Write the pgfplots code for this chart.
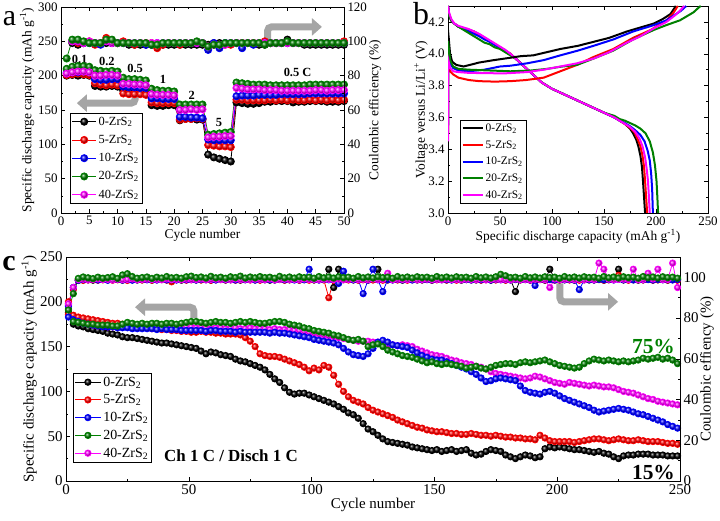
\documentclass[border=0pt]{standalone}
\usepackage{fontspec}
\setmainfont{Liberation Serif}
\usepackage{pgfplots}
\pgfplotsset{compat=1.18}
\usepackage{pgfplotstable}
\usetikzlibrary{arrows.meta}
\definecolor{cgreen}{RGB}{0,128,0}
\definecolor{cmag}{RGB}{255,0,255}
\definecolor{arr}{RGB}{165,165,165}
\newcommand{\fa}{\fontsize{13}{15}\selectfont}
\newcommand{\fl}{\fontsize{13.5}{15}\selectfont}
\newcommand{\fc}{\fontsize{15}{17}\selectfont}
\newcommand{\Zr}[1]{#1-ZrS\textsubscript{2}}
\pgfplotsset{
  base/.style={scale only axis, axis line style={line width=0.6pt}, tick style={black, line width=0.5pt},
    major tick length=4bp, minor tick length=2.2bp, tick align=inside,
    /pgf/number format/assume math mode=true},
}
\tikzset{arrsty/.style={line width=7bp, draw=arr, rounded corners=4bp, -{Triangle[width=17bp,length=10bp]}}}
\pgfplotstableread{
n c0 c5 c10 c20 c40 e0 e5 e10 e20 e40
1 200 201 204 210 203 nan nan nan 90 nan
2 201 202 205 213 205 99 100 100 101 100
3 200 203 205 214 206 98 99 100 101 100
4 201 202 206 214 206 99 99 99 100 99
5 200 201 205 213 205 99 100 99 99 100
6 185 189 195 208 200 99 98 99 99 99
7 184 187 194 207 200 99 99 98 99 99
8 184 186 194 206 201 99 102 100 101 100
9 185 187 195 207 201 99 99 99 101 99
10 184 186 195 206 200 99 99 99 99 99
11 178 174 184 197 188 99 100 99 99 99
12 178 173 183 195 188 98 99 99 99 99
13 178 173 183 195 187 98 98 99 99 99
14 177 173 182 194 187 98 99 99 99 99
15 177 172 182 193 186 98 99 98 99 99
16 157 161 167 181 173 98 99 98 98 99
17 156 160 167 179 172 98 96 99 98 99
18 156 160 166 178 172 98 98 99 99 99
19 157 160 166 178 172 98 99 99 99 99
20 157 160 166 177 171 98 99 99 99 99
21 135 136 140 158 150 98 98 99 99 99
22 137 137 140 158 150 98 99 99 99 99
23 137 137 139 158 151 98 99 99 99 99
24 136 138 139 158 150 98 99 99 100 99
25 136 137 138 158 151 98 99 99 99 99
26 85 99 107 114 110 98 97 95 97 97
27 81 98 106 115 111 99 98 99 98 98
28 79 97 106 116 111 99 98 96 98 98
29 77 97 106 117 112 99 98 99 99 98
30 75 96 106 118 112 99 98 99 99 99
31 161 165 170 190 182 99 99 99 99 99
32 160 165 171 189 181 99 99 96 99 99
33 159 164 171 188 180 99 99 99 99 99
34 159 164 171 187 180 99 99 98 99 99
35 160 164 172 187 180 98 99 99 99 99
36 162 164 172 187 179 98 100 99 98 99
37 162 165 172 186 179 99 99 99 99 99
38 163 164 172 186 179 99 99 99 99 99
39 163 165 173 186 178 99 99 99 99 99
40 163 164 173 186 178 101 99 99 100 99
41 161 165 173 186 178 99 99 99 99 99
42 162 164 173 186 178 99 99 99 99 99
43 162 164 173 186 178 98 99 99 99 99
44 163 165 174 187 178 98 99 99 99 99
45 163 164 174 187 179 98 99 99 99 99
46 163 165 174 187 179 98 99 99 99 99
47 162 164 174 187 178 98 99 99 99 99
48 162 165 174 187 179 98 99 99 99 99
49 162 164 174 187 179 98 99 99 99 99
50 163 165 174 187 179 98 100 99 99 99
}\tabA
\pgfplotstableread{
n c0 c5 c10 c20 c40 e0 e5 e10 e20 e40
1 188 186 183 192 195 87 88 86 84 87
3 175 185 180 178 180 95 94 95 92 95
5 173 183 178 177 178 98.5 98.8 98.6 99.5 98.9
7 172 182 176 176 176 98.8 98.5 98.9 100.2 99.1
9 170 181 175 175 175 99.0 98.7 98.8 99.8 98.8
11 169 180 174 175 174 98.6 98.9 99.1 99.4 99.0
13 168 179 173 174 173 98.9 98.6 98.7 100.1 99.2
15 167 178 172 174 173 99.1 98.8 98.9 99.6 98.9
17 165 177 172 174 172 98.7 98.9 98.6 99.9 99.0
19 164 176 172 173 172 98.8 98.6 98.9 100.3 98.7
21 163 176 171 173 172 99.0 98.8 99.0 99.5 99.1
23 161 175 171 175 172 98.6 98.9 98.7 101.2 98.9
25 160 175 171 177 173 98.9 98.5 98.9 101.8 99.0
27 160 174 170 176 172 99.1 98.8 98.6 100.4 99.2
29 159 173 170 175 172 98.7 98.9 98.8 99.6 98.8
31 158 172 170 176 171 98.8 98.7 99.0 99.9 99.0
33 157 171 170 175 171 99.0 98.9 98.8 100.2 99.1
35 156 170 170 176 172 98.6 98.6 98.9 99.5 98.9
37 155 170 169 176 171 98.9 98.8 98.7 100.1 99.0
39 154 169 170 175 171 99.1 98.9 99.0 99.7 98.8
41 154 169 169 176 171 98.7 98.7 98.8 100.4 99.2
43 153 168 169 176 170 98.8 97.8 98.9 99.8 98.9
45 152 168 169 175 171 99.0 98.8 98.7 100.0 99.0
47 151 167 168 176 171 98.6 98.9 99.0 99.6 98.8
49 150 167 168 177 172 98.9 98.6 98.8 100.3 99.1
51 149 166 168 178 172 99.1 98.8 98.9 100.6 99.0
53 148 166 168 178 171 98.7 98.9 98.7 99.9 98.9
55 145 167 168 177 171 98.8 98.7 99.0 100.2 99.2
57 142 166 167 176 171 99.0 98.9 98.8 99.7 98.8
59 144 166 168 177 170 98.6 98.6 98.9 100.5 99.0
61 143 165 168 178 171 98.9 98.8 98.7 99.8 99.1
63 141 165 167 177 171 99.1 98.9 99.0 100.1 98.9
65 140 164 167 177 170 98.7 98.7 98.8 99.6 99.0
67 139 164 167 176 170 98.8 98.9 98.9 100.3 98.8
69 136 164 166 177 171 99.0 98.6 98.7 99.9 99.2
71 134 163 167 178 170 98.6 98.8 99.0 100.6 98.9
73 133 160 166 177 170 98.9 98.9 98.8 99.7 99.0
75 131 156 166 178 171 99.1 98.7 98.9 100.2 98.8
77 129 150 166 177 170 98.7 98.9 98.7 99.8 99.1
79 127 142 166 176 170 98.8 98.6 99.0 100.4 99.0
81 124 140 166 176 170 99.0 98.8 98.8 99.9 98.9
83 119 139 165 177 169 98.6 98.9 98.9 100.1 99.2
85 114 139 166 178 170 98.9 98.7 98.7 99.6 98.8
87 110 138 165 178 169 99.1 98.9 99.0 100.5 99.0
89 104 136 165 177 169 98.7 98.6 98.8 99.8 99.1
91 99 134 164 175 169 98.8 98.8 98.9 100.2 98.9
93 97 132 163 174 168 99.0 98.9 98.7 99.7 99.0
95 98 130 162 173 168 98.6 98.7 99.0 100.3 98.8
97 98 127 161 171 167 98.9 98.9 98.8 99.9 99.2
99 96 123 160 170 166 99.1 98.6 104.0 100.1 98.9
101 94 126 158 168 165 98.7 98.8 98.9 99.6 99.0
103 92 124 157 167 164 98.8 98.9 98.7 100.4 98.8
105 90 129 156 166 163 99.0 98.7 99.0 99.8 99.1
107 88 127 155 165 162 104.0 90.0 98.8 100.2 99.0
109 86 118 154 163 161 95.0 98.6 98.9 99.7 98.9
111 83 108 152 162 160 104.0 98.8 97.0 100.3 99.2
113 80 100 148 160 159 98.9 98.9 103.0 99.9 98.8
115 76 94 144 158 158 99.1 98.7 99.0 100.1 99.0
117 74 90 141 157 157 98.7 98.9 98.8 99.6 99.1
119 70 88 140 158 156 98.8 98.6 98.9 100.4 98.9
121 64 86 139 156 156 99.0 98.8 92.0 99.8 99.0
123 58 82 142 150 156 98.6 98.9 98.7 100.2 98.8
125 55 79 148 152 155 98.9 98.7 104.0 99.7 99.2
127 51 77 155 153 155 104.0 98.9 98.8 100.3 98.9
129 47 75 157 150 154 99.1 98.6 93.0 99.9 99.0
131 44 73 155 146 152 98.7 98.8 98.9 100.1 102.0
133 43 71 152 144 152 98.8 98.9 98.7 99.6 98.8
135 42 68 151 142 151 99.0 98.7 99.0 100.4 99.1
137 41 66 150 140 152 98.6 98.9 98.8 99.8 99.0
139 40 64 149 139 151 98.9 98.6 98.9 100.2 98.9
141 38 62 146 138 150 99.1 98.8 98.7 99.7 99.2
143 37 60 143 136 147 98.7 98.9 99.0 100.3 98.8
145 36 59 140 134 145 98.8 98.7 98.8 99.9 99.0
147 35 57 138 132 143 99.0 98.9 98.9 100.1 99.1
149 34 56 136 133 141 98.6 98.6 98.7 99.6 98.9
151 35 55 135 131 140 98.9 98.8 99.0 100.4 99.0
153 33 55 135 130 139 99.1 98.9 98.8 99.8 98.8
155 34 54 133 131 137 98.7 98.7 98.9 100.2 99.2
157 35 53 131 130 135 98.8 98.9 98.7 99.7 98.9
159 33 53 129 129 134 99.0 98.6 99.0 100.3 99.0
161 34 52 127 128 132 98.6 98.8 98.8 99.9 98.8
163 35 52 125 126 131 98.9 98.9 98.9 100.1 99.1
165 31 53 122 127 130 99.1 98.7 98.7 99.6 99.0
167 29 52 119 128 128 98.7 98.9 99.0 100.4 98.9
169 30 51 115 126 127 98.8 98.6 98.8 99.8 99.2
171 33 51 111 125 125 99.0 98.8 98.9 100.2 98.8
173 35 50 112 127 122 98.6 98.9 98.7 99.7 99.0
175 34 51 114 129 120 98.9 98.7 99.0 100.3 99.1
177 33 50 115 130 119 99.1 98.9 98.8 101.5 98.9
179 29 49 114 131 118 98.7 98.6 98.9 100.8 99.0
181 27 49 113 131 117 98.8 98.8 98.7 99.9 98.8
183 25 48 112 130 116 93.0 98.9 99.0 100.1 99.2
185 27 48 106 132 115 98.9 98.7 98.8 99.6 98.9
187 29 47 101 133 114 99.1 98.9 98.9 100.4 99.0
189 28 47 99 132 115 98.7 98.6 98.7 99.8 98.8
191 26 46 98 133 117 98.8 98.8 96.0 100.2 99.1
193 27 51 97 134 116 99.0 98.9 99.0 99.7 99.0
195 36 48 99 135 114 98.6 98.7 98.8 100.3 98.9
197 38 45 100 133 112 104.0 98.9 98.9 99.9 95.0
199 37 44 98 131 110 99.1 98.6 98.7 100.1 99.2
201 38 44 95 129 109 98.7 98.8 99.0 99.6 98.8
203 37 44 92 128 108 98.8 98.9 98.8 100.4 99.0
205 36 44 90 127 110 99.0 98.7 98.9 99.8 99.1
207 35 43 88 126 109 98.6 98.9 98.7 100.2 98.9
209 35 44 86 127 108 98.9 98.6 94.0 99.7 99.0
211 34 45 84 131 107 99.1 98.8 98.8 100.3 98.8
213 33 46 82 134 106 98.7 98.9 98.9 99.9 99.2
215 32 47 79 136 107 98.8 98.7 98.7 100.1 98.9
217 33 47 77 135 106 99.0 98.9 99.0 99.6 107.0
219 31 46 78 134 105 98.6 98.6 98.8 100.4 104.0
221 30 45 79 135 105 98.9 98.8 98.9 99.8 99.1
223 27 46 80 134 104 99.1 98.9 98.7 100.2 98.8
225 25 47 81 133 102 104.0 101.0 99.0 99.7 99.0
227 28 46 80 134 100 98.7 98.9 98.8 100.3 99.1
229 29 45 79 133 99 98.8 98.6 98.9 99.9 98.9
231 29 45 77 134 98 99.0 98.8 98.7 100.1 104.0
233 30 46 75 135 96 98.6 98.9 99.0 99.6 98.8
235 30 45 74 137 94 98.9 98.7 98.8 100.4 99.0
237 30 44 72 136 92 99.1 98.9 98.9 99.8 102.0
239 29 44 70 137 91 98.7 98.6 98.7 100.2 99.2
241 29 44 68 138 89 98.8 98.8 99.0 99.7 104.0
243 29 43 66 136 88 99.0 98.9 98.8 100.3 98.9
245 28 42 63 137 87 98.6 98.7 98.9 99.9 99.0
247 28 42 61 135 86 98.9 98.9 98.7 100.1 107.0
249 28 41 59 131 85 99.1 98.6 99.0 99.6 95.0
}\tabC
\begin{document}
\begin{tikzpicture}
\path[use as bounding box] (0,0) rectangle (720bp,521bp);
% ================= Panel a =================
\begin{axis}[base, at={(61bp,308bp)}, anchor=south west, width=283bp, height=206bp,
  xmin=0, xmax=50, ymin=0, ymax=300, xtick={0,5,...,50}, ytick={0,50,...,300},
  minor x tick num=1, minor y tick num=1, ytick pos=left,
  ticklabel style={font=\fa}, label style={font=\fl},
  xlabel={Cycle number}, ylabel={Specific discharge capacity (mAh g\textsuperscript{-1})},
  xlabel style={yshift=3bp},
  every axis y label/.style={at={(axis description cs:-0.120,0.5)}, rotate=90, anchor=center, font=\fl},
  legend style={at={(0.032,0.485)}, anchor=north west, draw=black, line width=0.5pt,
    font=\fontsize{12.5}{14}\selectfont, row sep=4.5bp, inner sep=1.5bp, legend cell align=left},
  legend image code/.code={\draw[mark repeat=2,mark phase=2,#1] plot coordinates {(0bp,0bp) (12bp,0bp) (24bp,0bp)};},
  every axis plot/.append style={line width=0.8pt, mark size=3.6bp},
]
\addplot[black, mark=ball, mark options={ball color=black}] table[x=n,y=c0] {\tabA};
\addlegendentry{\Zr{0}}
\addplot[red, mark=ball, mark options={ball color=red}] table[x=n,y=c5] {\tabA};
\addlegendentry{\Zr{5}}
\addplot[blue, mark=ball, mark options={ball color=blue}] table[x=n,y=c10] {\tabA};
\addlegendentry{\Zr{10}}
\addplot[cgreen, mark=ball, mark options={ball color=cgreen}] table[x=n,y=c20] {\tabA};
\addlegendentry{\Zr{20}}
\addplot[cmag, mark=ball, mark options={ball color=cmag}] table[x=n,y=c40] {\tabA};
\addlegendentry{\Zr{40}}
\node[font=\bfseries\fontsize{12.5}{14}\selectfont] at (axis cs:3.3,224) {0.1};
\node[font=\bfseries\fontsize{12.5}{14}\selectfont] at (axis cs:8.1,221) {0.2};
\node[font=\bfseries\fontsize{12.5}{14}\selectfont] at (axis cs:13.1,210) {0.5};
\node[font=\bfseries\fontsize{12.5}{14}\selectfont] at (axis cs:18.0,194) {1};
\node[font=\bfseries\fontsize{12.5}{14}\selectfont] at (axis cs:23.1,171) {2};
\node[font=\bfseries\fontsize{12.5}{14}\selectfont] at (axis cs:27.9,132.5) {5};
\node[font=\bfseries\fontsize{12.5}{14}\selectfont] at (axis cs:41.8,204.6) {0.5 C};
\draw[arrsty] (axis cs:36.5,252) -- (axis cs:36.5,271) -- (axis cs:46.1,271);
\draw[arrsty] (axis cs:13.1,177) -- (axis cs:13.1,160) -- (axis cs:2.8,160);
\end{axis}
\begin{axis}[base, at={(61bp,308bp)}, anchor=south west, width=283bp, height=206bp,
  xmin=0, xmax=50, ymin=0, ymax=120, axis x line=none, axis y line*=right,
  ytick={0,20,...,120}, minor y tick num=1,
  ticklabel style={font=\fa}, label style={font=\fl},
  ylabel={Coulombic efficiency (\%)},
  every axis y label/.style={at={(axis description cs:1.1095,0.5)}, rotate=90, anchor=center, font=\fl},
  every axis plot/.append style={line width=0.8pt, mark size=3.6bp},
]
\addplot[black, mark=ball, mark options={ball color=black}] table[x=n,y=e0] {\tabA};
\addplot[red, mark=ball, mark options={ball color=red}] table[x=n,y=e5] {\tabA};
\addplot[blue, mark=ball, mark options={ball color=blue}] table[x=n,y=e10] {\tabA};
\addplot[cmag, mark=ball, mark options={ball color=cmag}] table[x=n,y=e40] {\tabA};
\addplot[cgreen, mark=ball, mark options={ball color=cgreen}] table[x=n,y=e20] {\tabA};
\end{axis}
% ================= Panel b =================
\begin{axis}[base, at={(448bp,308bp)}, anchor=south west, width=260bp, height=207bp,
  xmin=0, xmax=250, ymin=3.0, ymax=4.3, xtick={0,50,...,250}, ytick={3.0,3.2,3.4,3.6,3.8,4.0,4.2},
  minor x tick num=1, minor y tick num=1,
  ticklabel style={font=\fa}, label style={font=\fl},
  yticklabel style={/pgf/number format/.cd, fixed, fixed zerofill, precision=1},
  xlabel={Specific discharge capacity (mAh g\textsuperscript{-1})}, ylabel={Voltage versus Li/Li\textsuperscript{+} (V)},
  xlabel style={yshift=3bp},
  every axis y label/.style={at={(axis description cs:-0.104,0.5)}, rotate=90, anchor=center, font=\fl},
  legend style={at={(0.046,0.449)}, anchor=north west, draw=black, line width=0.5pt,
    font=\fontsize{11.5}{13}\selectfont, row sep=3.6bp, inner sep=1.5bp, legend cell align=left},
  legend image code/.code={\draw[#1] (0bp,0bp) -- (20bp,0bp);},
  every axis plot/.append style={line width=2bp},
]
\addplot[black] coordinates {(0,4.30) (1,4.25) (3,4.21) (6,4.19) (10,4.17) (15,4.16) (20,4.15) (25,4.14) (30,4.12) (35,4.10) (40,4.08) (45,4.06) (50,4.04) (55,4.02) (60,4.00) (65,3.97) (70,3.94) (75,3.91) (80,3.88) (85,3.85) (90,3.82) (95,3.80) (100,3.78) (110,3.75) (120,3.72) (130,3.69) (140,3.66) (150,3.63) (160,3.60) (165,3.58) (170,3.56) (175,3.53) (178,3.50) (181,3.46) (183,3.42) (185,3.36) (186.5,3.29) (187.5,3.20) (188.5,3.10) (189.5,3.00)};
\addlegendentry{\Zr{0}}
\addplot[red] coordinates {(0,4.30) (1,4.25) (3,4.21) (6,4.19) (10,4.17) (15,4.16) (20,4.15) (25,4.14) (30,4.12) (35,4.10) (40,4.08) (45,4.06) (50,4.04) (55,4.02) (60,4.00) (65,3.97) (70,3.94) (75,3.91) (80,3.88) (85,3.85) (90,3.82) (95,3.80) (100,3.78) (110,3.75) (120,3.72) (130,3.69) (140,3.66) (150,3.63) (160,3.60) (165,3.58) (170,3.56) (175,3.535) (179,3.51) (182,3.47) (185,3.42) (187,3.36) (188.5,3.29) (189.5,3.20) (190.5,3.10) (191.5,3.00)};
\addlegendentry{\Zr{5}}
\addplot[blue] coordinates {(0,4.30) (1,4.25) (3,4.21) (6,4.19) (10,4.17) (15,4.155) (20,4.14) (25,4.125) (30,4.11) (35,4.09) (40,4.075) (45,4.055) (50,4.035) (55,4.015) (60,3.995) (65,3.97) (70,3.94) (75,3.91) (80,3.88) (85,3.85) (90,3.82) (95,3.80) (100,3.78) (110,3.75) (120,3.72) (130,3.69) (140,3.66) (150,3.63) (160,3.60) (165,3.58) (170,3.565) (175,3.545) (180,3.52) (185,3.49) (189,3.45) (192,3.39) (194,3.33) (195.3,3.25) (196.3,3.15) (197,3.00)};
\addlegendentry{\Zr{10}}
\addplot[cgreen] coordinates {(0,4.30) (1,4.24) (3,4.21) (6,4.19) (10,4.17) (15,4.15) (20,4.13) (25,4.11) (30,4.09) (35,4.07) (40,4.06) (45,4.04) (50,4.03) (55,4.01) (60,3.99) (65,3.97) (70,3.94) (75,3.91) (80,3.88) (85,3.85) (90,3.82) (95,3.80) (100,3.78) (110,3.75) (120,3.72) (130,3.69) (140,3.66) (150,3.63) (160,3.61) (165,3.59) (170,3.58) (175,3.565) (180,3.55) (185,3.53) (190,3.50) (194,3.45) (197,3.38) (199,3.30) (200.5,3.20) (201.3,3.10) (202,3.00)};
\addlegendentry{\Zr{20}}
\addplot[cmag] coordinates {(0,4.30) (1,4.26) (3,4.22) (6,4.19) (10,4.175) (15,4.165) (20,4.155) (25,4.14) (30,4.125) (35,4.105) (40,4.085) (45,4.065) (50,4.045) (55,4.025) (60,4.00) (65,3.97) (70,3.94) (75,3.91) (80,3.88) (85,3.85) (90,3.82) (95,3.80) (100,3.78) (110,3.75) (120,3.72) (130,3.69) (140,3.66) (150,3.63) (160,3.60) (165,3.58) (170,3.56) (175,3.54) (180,3.51) (184,3.47) (187,3.42) (189.5,3.35) (191,3.28) (192.3,3.20) (193.2,3.10) (194,3.00)};
\addlegendentry{\Zr{40}}
\addplot[black, forget plot] coordinates {(0,3.55) (0,4.15) (2,4.0) (4,3.95) (8,3.93) (15,3.92) (21,3.93) (30,3.945) (44,3.96) (60,3.975) (70,3.985) (82,3.99) (95,4.01) (108,4.03) (125,4.05) (140,4.075) (155,4.10) (172,4.14) (185,4.165) (198,4.19) (207,4.22) (214,4.25) (217,4.28) (219,4.30)};
\addplot[red, forget plot] coordinates {(0,3.5) (0,3.94) (2,3.89) (5,3.87) (10,3.85) (20,3.835) (30,3.828) (45,3.825) (60,3.828) (75,3.835) (92,3.85) (108,3.89) (124,3.93) (140,3.98) (159,4.03) (178,4.10) (195,4.15) (210,4.21) (216,4.25) (219,4.28) (221,4.30)};
\addplot[blue, forget plot] coordinates {(0,3.55) (0,4.02) (2,3.94) (5,3.91) (10,3.895) (20,3.89) (35,3.90) (50,3.92) (60,3.925) (76,3.94) (92,3.96) (108,3.99) (125,4.02) (140,4.05) (159,4.09) (178,4.14) (198,4.18) (210,4.21) (217,4.24) (224,4.27) (229,4.30)};
\addplot[cgreen, forget plot] coordinates {(0,3.5) (0,4.08) (2,3.96) (5,3.92) (10,3.905) (20,3.90) (40,3.895) (60,3.89) (80,3.895) (95,3.905) (110,3.92) (124,3.93) (140,3.97) (159,4.02) (178,4.09) (198,4.15) (210,4.18) (223,4.21) (236,4.26) (241,4.29) (243,4.30)};
\addplot[cmag, forget plot] coordinates {(0,3.45) (0,3.97) (2,3.91) (5,3.89) (10,3.885) (20,3.88) (37,3.878) (55,3.877) (76,3.885) (92,3.90) (108,3.92) (124,3.94) (140,3.97) (155,4.01) (172,4.07) (185,4.11) (198,4.16) (210,4.20) (218,4.24) (223,4.27) (227,4.30)};
\end{axis}
% ================= Panel c =================
\begin{axis}[base, at={(66bp,40bp)}, anchor=south west, width=614bp, height=224bp,
  xmin=0, xmax=250, ymin=0, ymax=250, xtick={0,50,...,250}, ytick={0,50,...,250},
  minor x tick num=1, minor y tick num=1, ytick pos=left,
  ticklabel style={font=\fc}, label style={font=\fc},
  xlabel={Cycle number}, ylabel={Specific discharge capacity (mAh g\textsuperscript{-1})},
  xlabel style={yshift=3bp},
  every axis y label/.style={at={(axis description cs:-0.060,0.5)}, rotate=90, anchor=center, font=\fc},
  legend style={at={(0.011,0.482)}, anchor=north west, draw=black, line width=0.5pt,
    font=\fontsize{14}{16}\selectfont, row sep=3bp, inner sep=1.5bp, legend cell align=left},
  legend image code/.code={\draw[mark repeat=2,mark phase=2,#1] plot coordinates {(0bp,0bp) (13bp,0bp) (26bp,0bp)};},
  every axis plot/.append style={line width=0.8pt, mark size=3.2bp},
]
\addlegendimage{black, mark=ball, mark options={ball color=black}}
\addlegendentry{\Zr{0}}
\addlegendimage{red, mark=ball, mark options={ball color=red}}
\addlegendentry{\Zr{5}}
\addlegendimage{blue, mark=ball, mark options={ball color=blue}}
\addlegendentry{\Zr{10}}
\addlegendimage{cgreen, mark=ball, mark options={ball color=cgreen}}
\addlegendentry{\Zr{20}}
\addlegendimage{cmag, mark=ball, mark options={ball color=cmag}}
\addlegendentry{\Zr{40}}
\addplot[black, mark=ball, mark options={ball color=black}, forget plot] table[x=n,y=c0] {\tabC};
\addplot[red, mark=ball, mark options={ball color=red}, forget plot] table[x=n,y=c5] {\tabC};
\addplot[cmag, mark=ball, mark options={ball color=cmag}, forget plot] table[x=n,y=c40] {\tabC};
\addplot[blue, mark=ball, mark options={ball color=blue}, forget plot] table[x=n,y=c10] {\tabC};
\addplot[cgreen, mark=ball, mark options={ball color=cgreen}, forget plot] table[x=n,y=c20] {\tabC};
\node[font=\bfseries\fontsize{17}{19}\selectfont] at (axis cs:67.2,28.5) {Ch 1 C / Disch 1 C};
\node[font=\bfseries\fontsize{21.5}{23}\selectfont, text=cgreen] at (axis cs:239.2,150) {75\%};
\node[font=\bfseries\fontsize{21.5}{23}\selectfont] at (axis cs:239.2,9) {15\%};
\draw[arrsty] (axis cs:52.1,182) -- (axis cs:52.1,194) -- (axis cs:28.1,194);
\end{axis}
\begin{axis}[base, at={(66bp,40bp)}, anchor=south west, width=614bp, height=224bp,
  xmin=0, xmax=250, ymin=0, ymax=110, axis x line=none, axis y line*=right,
  ytick={0,20,...,100}, minor y tick num=1,
  ticklabel style={font=\fc}, label style={font=\fc},
  ylabel={Coulombic effiency (\%)},
  every axis y label/.style={at={(axis description cs:1.044,0.5)}, rotate=90, anchor=center, font=\fc},
  every axis plot/.append style={line width=0.8pt, mark size=3.2bp},
]
\addplot[black, mark=ball, mark options={ball color=black}] table[x=n,y=e0] {\tabC};
\addplot[red, mark=ball, mark options={ball color=red}] table[x=n,y=e5] {\tabC};
\addplot[blue, mark=ball, mark options={ball color=blue}] table[x=n,y=e10] {\tabC};
\addplot[cmag, mark=ball, mark options={ball color=cmag}] table[x=n,y=e40] {\tabC};
\addplot[cgreen, mark=ball, mark options={ball color=cgreen}] table[x=n,y=e20] {\tabC};
\draw[arrsty] (axis cs:201.1,97) -- (axis cs:201.1,88) -- (axis cs:224.8,88);
\end{axis}
% panel letters
\node[font=\fontsize{30}{30}\selectfont] at (9.5bp,502bp) {a};
\node[font=\fontsize{32}{32}\selectfont] at (421bp,507bp) {b};
\node[font=\bfseries\fontsize{30}{30}\selectfont] at (9bp,257bp) {c};
\end{tikzpicture}
\end{document}
